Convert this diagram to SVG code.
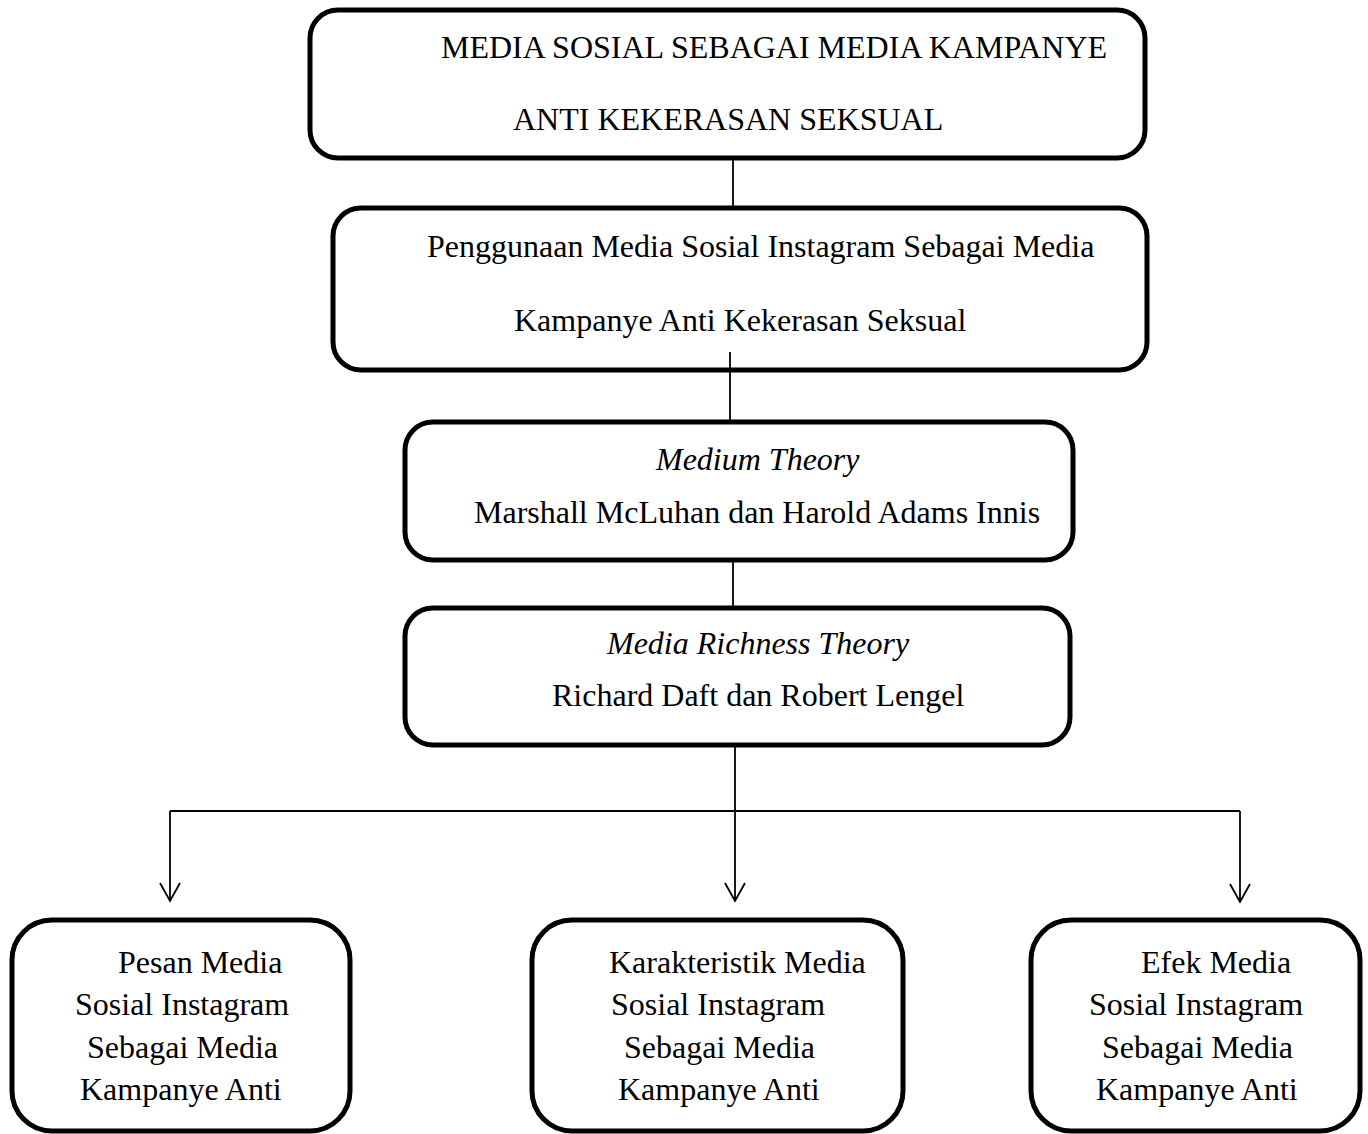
<svg xmlns="http://www.w3.org/2000/svg" width="1368" height="1134" viewBox="0 0 1368 1134">
<style>
.box{fill:#fff;stroke:#000;stroke-width:5}
.t{font-family:"Liberation Serif","Times New Roman",serif;font-size:32px;fill:#000}
.i{font-style:italic}
.c{fill:none;stroke:#000;stroke-width:1.8}
</style>
<defs>
<marker id="ah" markerUnits="userSpaceOnUse" markerWidth="24" markerHeight="24" viewBox="-20 -12 24 24" refX="0" refY="0" orient="auto">
<path d="M-18,-10 L0,0 L-18,10" fill="none" stroke="#000" stroke-width="1.8"/>
</marker>
</defs>
<rect width="1368" height="1134" fill="#fff"/>
<g id="n1">
<rect class="box" x="310" y="10" width="835" height="148" rx="28"/>
<text class="t" x="441" y="58">MEDIA SOSIAL SEBAGAI MEDIA KAMPANYE</text>
<text class="t" x="513" y="130">ANTI KEKERASAN SEKSUAL</text>
</g>
<g id="n2">
<rect class="box" x="333" y="208" width="814" height="162" rx="28"/>
<text class="t" x="427" y="257">Penggunaan Media Sosial Instagram Sebagai Media</text>
<text class="t" x="514" y="331">Kampanye Anti Kekerasan Seksual</text>
</g>
<g id="n3">
<rect class="box" x="405" y="422" width="668" height="138" rx="28"/>
<text class="t i" x="656" y="470">Medium Theory</text>
<text class="t" x="474" y="523">Marshall McLuhan dan Harold Adams Innis</text>
</g>
<g id="n4">
<rect class="box" x="405" y="608" width="665" height="137" rx="28"/>
<text class="t i" x="607" y="654">Media Richness Theory</text>
<text class="t" x="552" y="706">Richard Daft dan Robert Lengel</text>
</g>
<g id="n5">
<rect class="box" x="12" y="920" width="338" height="211" rx="40"/>
<text class="t" x="118" y="973">Pesan Media</text>
<text class="t" x="75" y="1015">Sosial Instagram</text>
<text class="t" x="87" y="1058">Sebagai Media</text>
<text class="t" x="80" y="1100">Kampanye Anti</text>
</g>
<g id="n6">
<rect class="box" x="532" y="920" width="371" height="211" rx="40"/>
<text class="t" x="609" y="973">Karakteristik Media</text>
<text class="t" x="611" y="1015">Sosial Instagram</text>
<text class="t" x="624" y="1058">Sebagai Media</text>
<text class="t" x="618" y="1100">Kampanye Anti</text>
</g>
<g id="n7">
<rect class="box" x="1031" y="920" width="329" height="211" rx="40"/>
<text class="t" x="1141" y="973">Efek Media</text>
<text class="t" x="1089" y="1015">Sosial Instagram</text>
<text class="t" x="1102" y="1058">Sebagai Media</text>
<text class="t" x="1096" y="1100">Kampanye Anti</text>
</g>
<g id="connectors">
<line class="c" x1="733" y1="160" x2="733" y2="206"/>
<line class="c" x1="730" y1="352" x2="730" y2="420"/>
<line class="c" x1="733" y1="562" x2="733" y2="606"/>
<line class="c" x1="735" y1="747" x2="735" y2="811"/>
<polyline class="c" points="170,811 1240,811"/>
<line class="c" x1="170" y1="811" x2="170" y2="901" marker-end="url(#ah)"/>
<line class="c" x1="735" y1="811" x2="735" y2="901" marker-end="url(#ah)"/>
<line class="c" x1="1240" y1="811" x2="1240" y2="902" marker-end="url(#ah)"/>
</g>
</svg>
